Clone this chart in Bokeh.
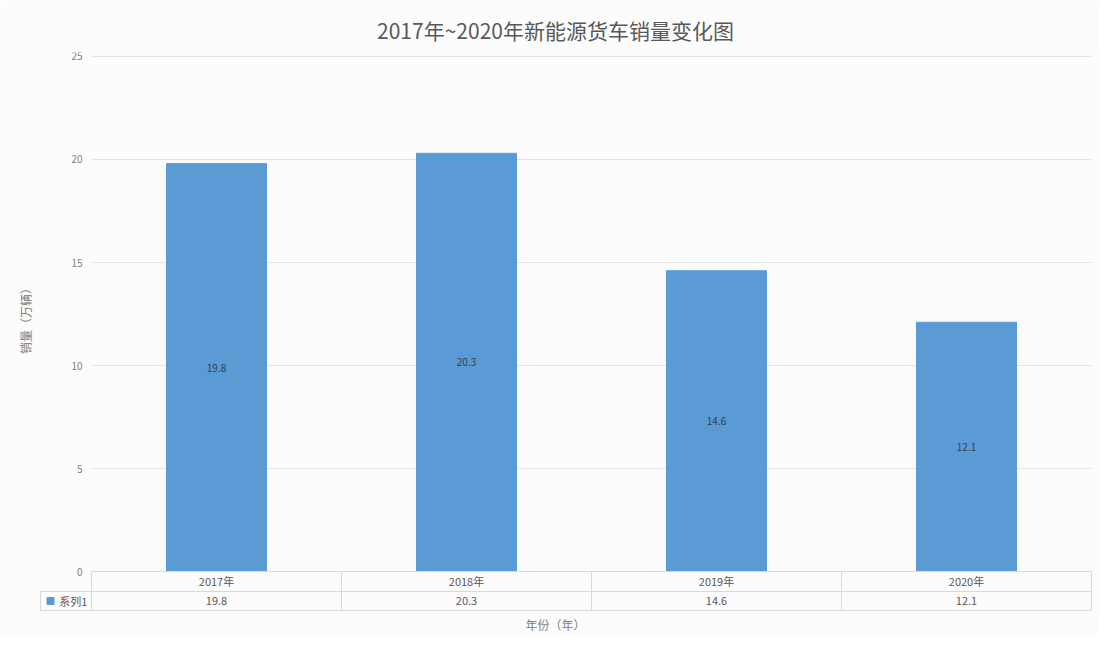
import math
from bokeh.plotting import figure
from bokeh.models import FixedTicker, Range1d
from bokeh.core.properties import value
from bokeh.embed import file_html
from bokeh.resources import INLINE

title_text = "2017年~2020年新能源货车销量变化图"
categories = ["2017年", "2018年", "2019年", "2020年"]
sales = [19.8, 20.3, 14.6, 12.1]
value_labels = ["19.8", "20.3", "14.6", "12.1"]
y_ticks = [0, 5, 10, 15, 20, 25]
series_name = "系列1"
x_title = "年份（年）"
y_title = "销量（万辆）"

FONT = "Noto Sans CJK SC"
BAR = "#5b9bd5"
TXT = "#595959"
LINE = "#d9d9d9"
BG = "#fcfcfd"

n = len(categories)
xs = [i + 0.5 for i in range(n)]

p = figure(width=1098, height=638, output_backend="svg", toolbar_location=None,
           x_range=Range1d(-0.308, n + 0.02), y_range=Range1d(-2.087, 25.194),
           min_border_left=14, min_border_right=2, min_border_top=52, min_border_bottom=24,
           background_fill_color=BG, border_fill_color=BG, outline_line_color=None)

# title
p.title.text = title_text
p.title.align = "center"
p.title.vertical_align = "top"
p.title.text_font = FONT
p.title.text_font_size = "21px"
p.title.text_font_style = "normal"
p.title.text_color = TXT
p.title.standoff = 12

# y axis (ticks only, placed just left of the category area)
p.yaxis.ticker = FixedTicker(ticks=y_ticks)
p.yaxis.fixed_location = -0.036
p.yaxis.axis_line_color = None
p.yaxis.major_tick_line_color = None
p.yaxis.minor_tick_line_color = None
p.yaxis.major_tick_out = 0
p.yaxis.major_tick_in = 0
p.yaxis.major_label_standoff = 0
p.yaxis.major_label_text_font = FONT
p.yaxis.major_label_text_font_size = "10px"
p.yaxis.major_label_text_color = "#7f7f7f"

# x axis: only its title
p.xaxis.ticker = FixedTicker(ticks=[])
p.xaxis.axis_line_color = None
p.xaxis.major_tick_line_color = None
p.xaxis.minor_tick_line_color = None
p.xaxis.major_tick_out = 0
p.xaxis.bounds = (0, n)
p.xaxis.axis_label = x_title
p.xaxis.axis_label_standoff = 1
p.xaxis.axis_label_text_font = FONT
p.xaxis.axis_label_text_font_size = "12px"
p.xaxis.axis_label_text_font_style = "normal"
p.xaxis.axis_label_text_color = "#7f7f7f"

p.xgrid.visible = False
p.ygrid.visible = False

# gridlines
p.segment(x0=[0] * len(y_ticks), x1=[n] * len(y_ticks), y0=y_ticks, y1=y_ticks,
          line_color="#e3e3e6", line_width=1)

# bars
p.vbar(x=xs, top=sales, bottom=0, width=0.4, fill_color=BAR, line_color=BAR)
p.text(x=xs, y=[s / 2 for s in sales], text=value_labels, text_align="center",
       text_baseline="middle", text_font=value(FONT), text_font_size="10px", text_color="#3a3a4a")

# data table
r0, r1, r2 = 0.0, -0.97, -1.89
legend_left = -0.204
p.segment(x0=[0, legend_left, legend_left], x1=[n, n, n], y0=[r0, r1, r2], y1=[r0, r1, r2],
          line_color=LINE, line_width=1)
p.segment(x0=list(range(n + 1)) + [legend_left], x1=list(range(n + 1)) + [legend_left],
          y0=[r0] * (n + 1) + [r1], y1=[r2] * (n + 2), line_color=LINE, line_width=1)
p.text(x=xs, y=[(r0 + r1) / 2] * n, text=categories, text_align="center", text_baseline="middle",
       text_font=value(FONT), text_font_size="11px", text_color=TXT)
p.text(x=xs, y=[(r1 + r2) / 2] * n, text=value_labels, text_align="center", text_baseline="middle",
       text_font=value(FONT), text_font_size="11px", text_color=TXT)
p.scatter(x=[legend_left + 0.04], y=[(r1 + r2) / 2], marker="square", size=7,
          fill_color=BAR, line_color=BAR)
p.text(x=[legend_left + 0.075], y=[(r1 + r2) / 2], text=[series_name], text_align="left",
       text_baseline="middle", text_font=value(FONT), text_font_size="11px", text_color=TXT)

# y axis title (rotated text inside the frame's left margin)
p.text(x=[-0.264], y=[12.3], text=[y_title], angle=math.pi / 2, text_align="center",
       text_baseline="middle", text_font=value(FONT), text_font_size="12px", text_color="#7f7f7f")

open("out.html", "w").write(file_html(p, INLINE))
